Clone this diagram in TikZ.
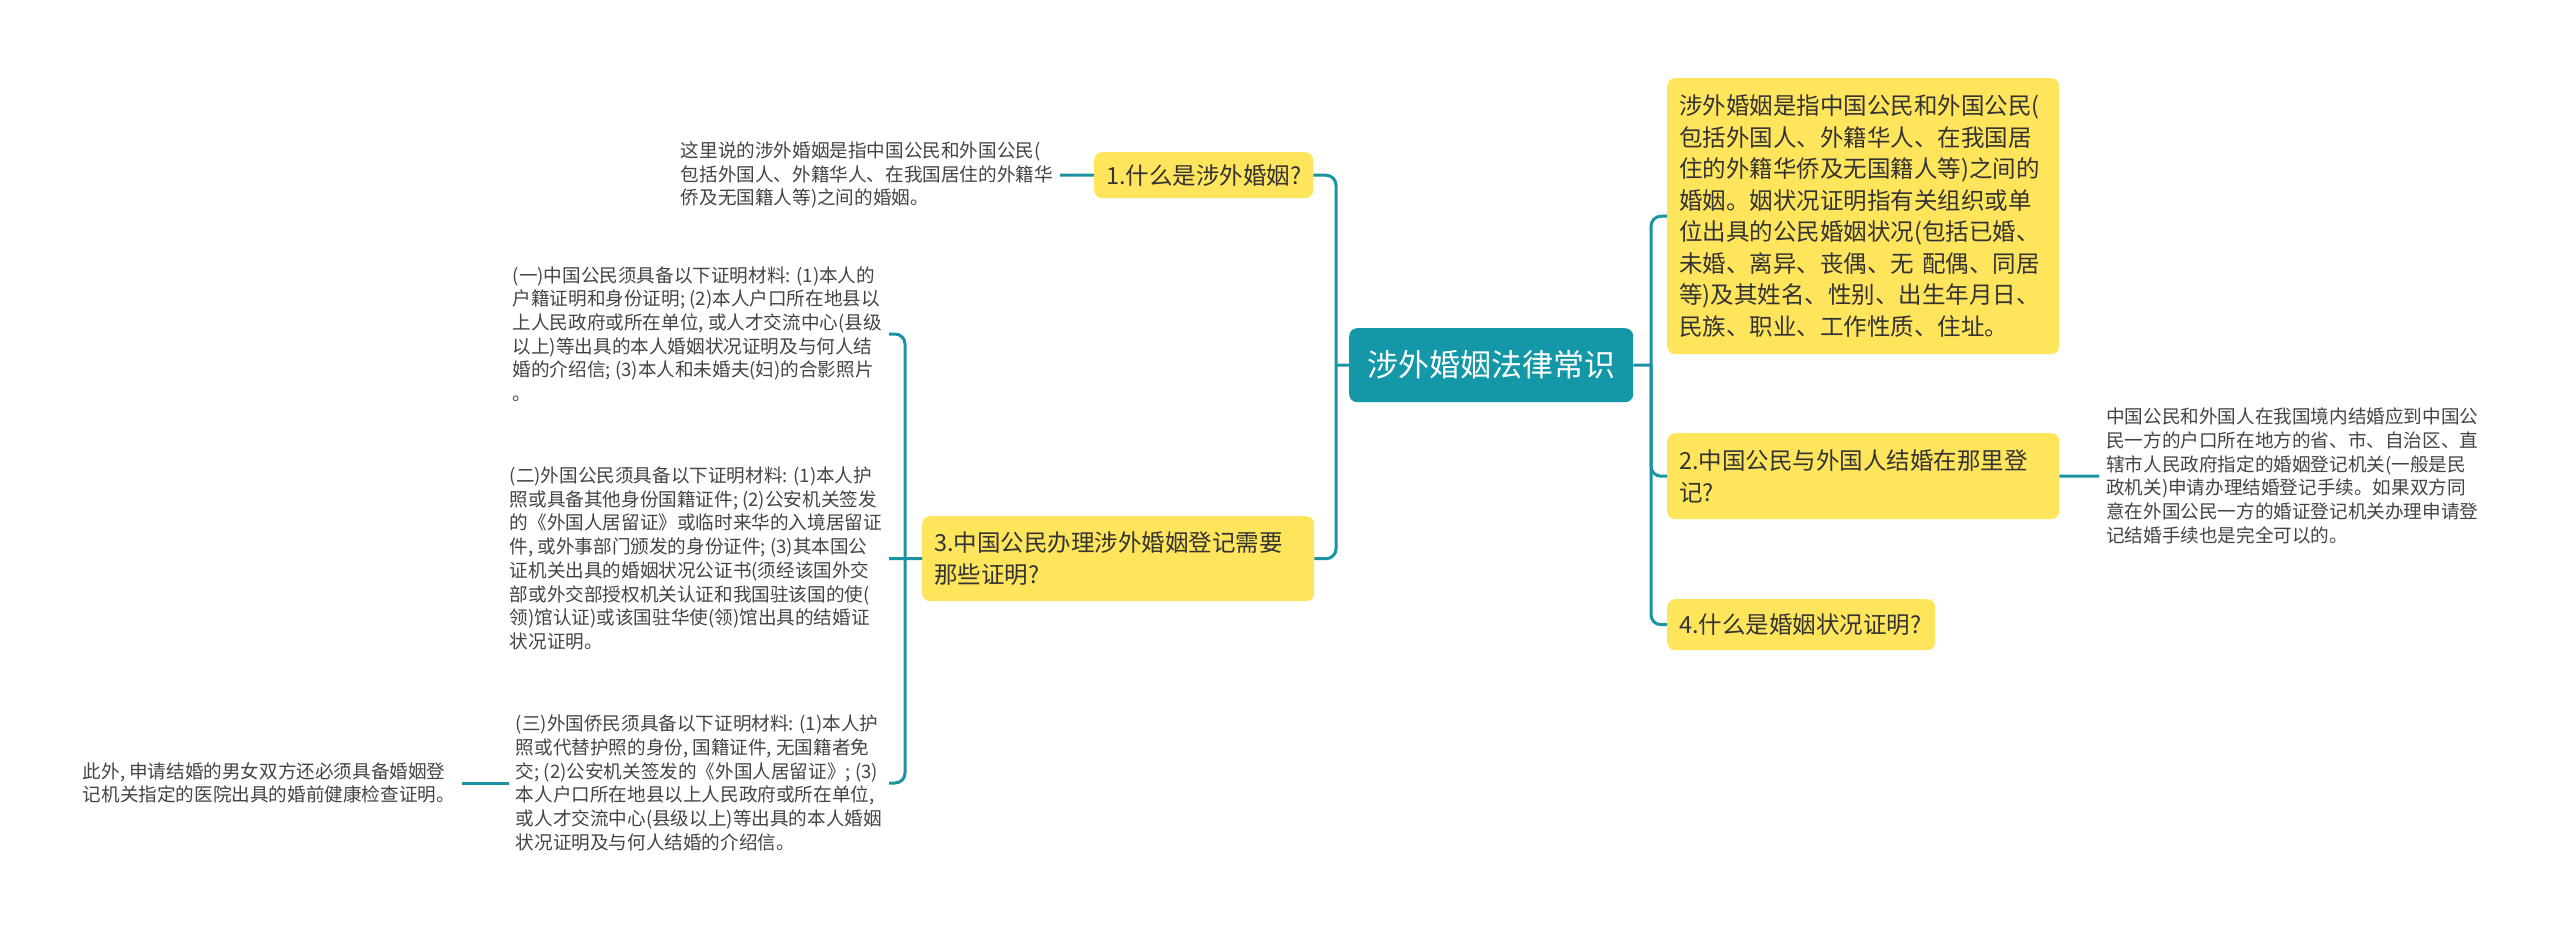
\documentclass[tikz,border=0pt]{standalone}
\usepackage{fontspec}
\setmainfont{Noto Sans CJK SC}
\definecolor{tealc}{HTML}{1A93A2}
\definecolor{rootc}{HTML}{1497A6}
\definecolor{yelc}{HTML}{FFE55C}
\definecolor{boxtxt}{HTML}{333333}
\definecolor{leaftxt}{HTML}{444444}
\begin{document}
\begin{tikzpicture}[x=1pt,y=-1pt,
  conn/.style={draw=tealc, line width=3, rounded corners=10},
  ybox/.style={fill=yelc, rounded corners=8, inner xsep=12, inner ysep=0, text=boxtxt, align=left, anchor=north west, font=\fontsize{23.5}{31.5}\selectfont},
  leaf/.style={text=leaftxt, align=left, inner xsep=7, inner ysep=2, font=\fontsize{18.6}{23.7}\selectfont}]
\fill[white] (0,0) rectangle (2560,942);
\useasboundingbox (0,0) rectangle (2560,942);

\node[fill=rootc, rounded corners=8, minimum width=284, minimum height=74, anchor=north west, text=white, font=\fontsize{31}{36}\selectfont, inner sep=0] (root) at (1349,328) {涉外婚姻法律常识};

\node[ybox, text width=368, minimum height=276] (r1) at (1667,78) {涉外婚姻是指中国公民和外国公民(\\包括外国人、外籍华人、在我国居\\住的外籍华侨及无国籍人等)之间的\\婚姻。姻状况证明指有关组织或单\\位出具的公民婚姻状况(包括已婚、\\未婚、离异、丧偶、无 配偶、同居\\等)及其姓名、性别、出生年月日、\\民族、职业、工作性质、住址。};
\node[ybox, text width=368, minimum height=86] (r2) at (1667,433) {2.中国公民与外国人结婚在那里登\\记?};
\node[ybox, text width=244, minimum height=51] (r4) at (1667,599) {4.什么是婚姻状况证明?};
\node[ybox, text width=195, minimum height=46] (l1) at (1094,152) {1.什么是涉外婚姻?};
\node[ybox, text width=368, minimum height=85] (l3) at (922,516) {3.中国公民办理涉外婚姻登记需要\\那些证明?};

\node[leaf, anchor=east] (l1a) at (1060,175) {这里说的涉外婚姻是指中国公民和外国公民(\\包括外国人、外籍华人、在我国居住的外籍华\\侨及无国籍人等)之间的婚姻。};
\node[leaf, anchor=east] (la) at (889,334) {(一)中国公民须具备以下证明材料: (1)本人的\\户籍证明和身份证明; (2)本人户口所在地县以\\上人民政府或所在单位, 或人才交流中心(县级\\以上)等出具的本人婚姻状况证明及与何人结\\婚的介绍信; (3)本人和未婚夫(妇)的合影照片\\。};
\node[leaf, anchor=east] (lb) at (889,558.5) {(二)外国公民须具备以下证明材料: (1)本人护\\照或具备其他身份国籍证件; (2)公安机关签发\\的《外国人居留证》或临时来华的入境居留证\\件, 或外事部门颁发的身份证件; (3)其本国公\\证机关出具的婚姻状况公证书(须经该国外交\\部或外交部授权机关认证和我国驻该国的使(\\领)馆认证)或该国驻华使(领)馆出具的结婚证\\状况证明。};
\node[leaf, anchor=east] (lc) at (889,783) {(三)外国侨民须具备以下证明材料: (1)本人护\\照或代替护照的身份, 国籍证件, 无国籍者免\\交; (2)公安机关签发的《外国人居留证》; (3)\\本人户口所在地县以上人民政府或所在单位,\\或人才交流中心(县级以上)等出具的本人婚姻\\状况证明及与何人结婚的介绍信。};
\node[leaf, anchor=east] (lcc) at (462,783) {此外, 申请结婚的男女双方还必须具备婚姻登\\记机关指定的医院出具的婚前健康检查证明。};
\node[leaf, anchor=west] (r2a) at (2099,476) {中国公民和外国人在我国境内结婚应到中国公\\民一方的户口所在地方的省、市、自治区、直\\辖市人民政府指定的婚姻登记机关(一般是民\\政机关)申请办理结婚登记手续。如果双方同\\意在外国公民一方的婚证登记机关办理申请登\\记结婚手续也是完全可以的。};

\coordinate (lt) at (1336,365);
\coordinate (rt) at (1651,365);
\coordinate (st) at (905,558.5);

\draw[conn] (l1.east) -| (lt) |- (l3.east);
\draw[conn] (root.west) -- (lt);
\draw[conn] (r1.west) -| (rt) |- (r4.west);
\draw[conn] (rt) |- (r2.west);
\draw[conn] (root.east) -- (rt);
\draw[conn] (la.east) -| (st) |- (lc.east);
\draw[conn] (lb.east) -- (l3.west);
\draw[conn] (l1a.east) -- (l1.west);
\draw[conn] (lcc.east) -- (lc.west);
\draw[conn] (r2.east) -- (r2a.west);
\end{tikzpicture}
\end{document}
